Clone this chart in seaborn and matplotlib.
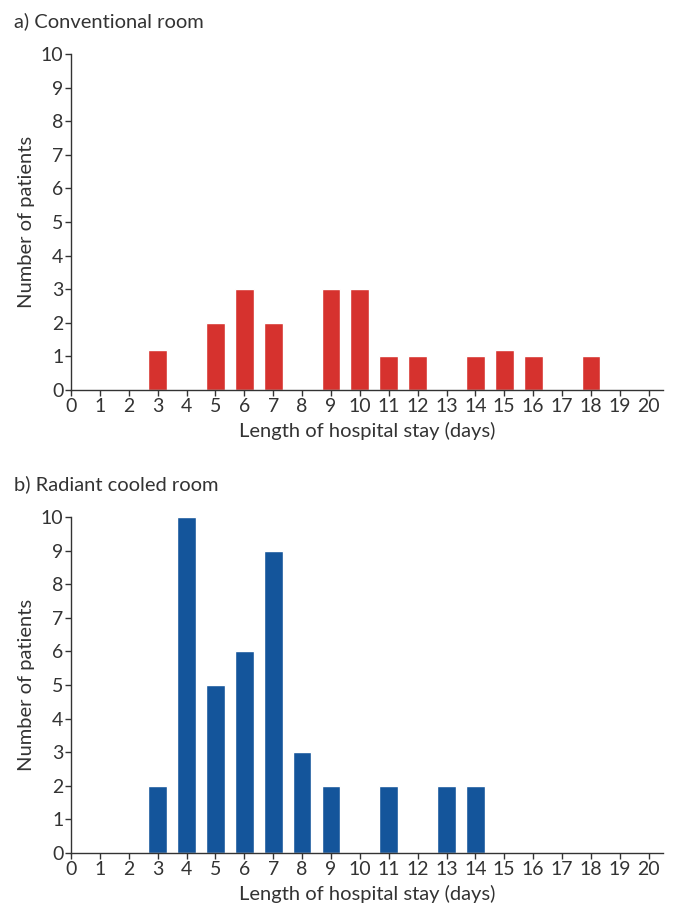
import numpy as np
import pandas as pd
import seaborn as sns
import matplotlib.pyplot as plt

# length of stay (days) and number of patients
conv_days = [3, 5, 6, 7, 9, 10, 11, 12, 14, 15, 16, 18]
conv_counts = [1.2, 2, 3, 2, 3, 3, 1, 1, 1, 1.2, 1, 1]

rad_days = [3, 4, 5, 6, 7, 8, 9, 11, 13, 14]
rad_counts = [2, 10, 5, 6, 9, 3, 2, 2, 2, 2]

x_ticks = list(range(0, 21))
y_ticks = list(range(0, 11))

sns.set_style('ticks')
plt.rcParams['font.family'] = ['Lato', 'DejaVu Sans']
txt = '#333333'

fig = plt.figure(figsize=(6.76, 9.09), dpi=100)
ax1 = fig.add_axes([0.105, 0.571, 0.876, 0.3696])
ax2 = fig.add_axes([0.105, 0.0616, 0.876, 0.3696])

panels = [
    (ax1, conv_days, conv_counts, '#D6322E', 'a) Conventional room'),
    (ax2, rad_days, rad_counts, '#14559B', 'b) Radiant cooled room'),
]

for ax, days, counts, col, title in panels:
    df = pd.DataFrame({'days': days, 'n': counts})
    sns.barplot(data=df, x='days', y='n', native_scale=True, width=0.65,
                color=col, saturation=1, ax=ax, errorbar=None)
    ax.set_xlim(0, 20.5)
    ax.set_ylim(0, 10)
    ax.set_xticks(x_ticks)
    ax.set_yticks(y_ticks)
    ax.tick_params(colors=txt, labelsize=14, length=4, width=1, pad=1.5)
    for s in ['top', 'right']:
        ax.spines[s].set_visible(False)
    for s in ['left', 'bottom']:
        ax.spines[s].set_color(txt)
        ax.spines[s].set_linewidth(1)
    ax.set_xlabel('Length of hospital stay (days)', fontsize=14.5, color=txt, labelpad=5)
    ax.set_ylabel('Number of patients', fontsize=14.5, color=txt, labelpad=4)
    ax.text(-0.097, 1.099, title, transform=ax.transAxes, fontsize=14.5,
            color=txt, ha='left', va='center')

fig.savefig('out.png', dpi=100)
